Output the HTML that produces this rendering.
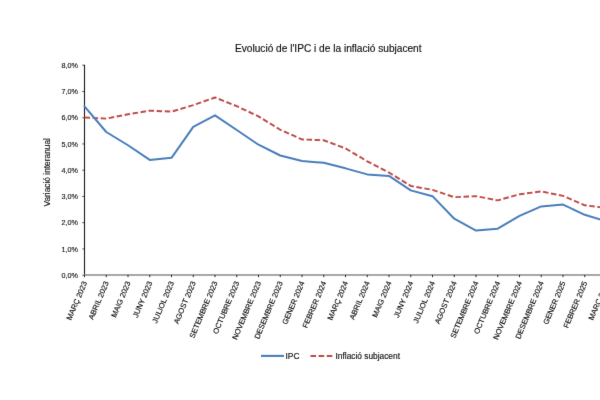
<!DOCTYPE html>
<html lang="ca"><head><meta charset="utf-8"><title>Evolució de l'IPC i de la inflació subjacent</title>
<style>
html,body{margin:0;padding:0;background:#fff;}
body{width:600px;height:400px;overflow:hidden;}
svg{display:block;will-change:transform;font-family:"Liberation Sans",Arial,sans-serif;fill:#111;}
text{stroke:#111;stroke-width:0.15px;}
</style></head><body>
<svg width="600" height="400" viewBox="0 0 600 400">
<defs><filter id="soft" x="0" y="0" width="600" height="400" filterUnits="userSpaceOnUse"><feConvolveMatrix order="3" kernelMatrix="0.0049 0.0602 0.0049 0.0602 0.7396 0.0602 0.0049 0.0602 0.0049" divisor="1" edgeMode="duplicate" preserveAlpha="false"/></filter></defs>
<rect width="600" height="400" fill="#fff"/>
<g filter="url(#soft)">
<text x="328.3" y="52" font-size="10.15" text-anchor="middle">Evolució de l'IPC i de la inflació subjacent</text>
<text transform="translate(49.5,172.3) rotate(-90)" font-size="8.35" text-anchor="middle">Variació interanual</text>
<line x1="82.4" x2="84.5" y1="275.15" y2="275.15" stroke="#333" stroke-width="0.9"/>
<text x="78" y="277.80" font-size="8" text-anchor="end" textLength="16.4" lengthAdjust="spacingAndGlyphs">0,0%</text>
<line x1="82.4" x2="84.5" y1="248.91" y2="248.91" stroke="#333" stroke-width="0.9"/>
<text x="78" y="251.56" font-size="8" text-anchor="end" textLength="16.4" lengthAdjust="spacingAndGlyphs">1,0%</text>
<line x1="82.4" x2="84.5" y1="222.67" y2="222.67" stroke="#333" stroke-width="0.9"/>
<text x="78" y="225.32" font-size="8" text-anchor="end" textLength="16.4" lengthAdjust="spacingAndGlyphs">2,0%</text>
<line x1="82.4" x2="84.5" y1="196.43" y2="196.43" stroke="#333" stroke-width="0.9"/>
<text x="78" y="199.08" font-size="8" text-anchor="end" textLength="16.4" lengthAdjust="spacingAndGlyphs">3,0%</text>
<line x1="82.4" x2="84.5" y1="170.19" y2="170.19" stroke="#333" stroke-width="0.9"/>
<text x="78" y="172.84" font-size="8" text-anchor="end" textLength="16.4" lengthAdjust="spacingAndGlyphs">4,0%</text>
<line x1="82.4" x2="84.5" y1="143.95" y2="143.95" stroke="#333" stroke-width="0.9"/>
<text x="78" y="146.60" font-size="8" text-anchor="end" textLength="16.4" lengthAdjust="spacingAndGlyphs">5,0%</text>
<line x1="82.4" x2="84.5" y1="117.71" y2="117.71" stroke="#333" stroke-width="0.9"/>
<text x="78" y="120.36" font-size="8" text-anchor="end" textLength="16.4" lengthAdjust="spacingAndGlyphs">6,0%</text>
<line x1="82.4" x2="84.5" y1="91.47" y2="91.47" stroke="#333" stroke-width="0.9"/>
<text x="78" y="94.12" font-size="8" text-anchor="end" textLength="16.4" lengthAdjust="spacingAndGlyphs">7,0%</text>
<line x1="82.4" x2="84.5" y1="65.23" y2="65.23" stroke="#333" stroke-width="0.9"/>
<text x="78" y="67.88" font-size="8" text-anchor="end" textLength="16.4" lengthAdjust="spacingAndGlyphs">8,0%</text>
<line x1="84.5" x2="84.5" y1="64.78" y2="275.50" stroke="#1a1a1a" stroke-width="1.1"/>
<line x1="84" x2="640" y1="275" y2="275" stroke="#8a8a8a" stroke-width="1.7"/>
<line x1="84.50" x2="84.50" y1="274.90" y2="277.10" stroke="#1a1a1a" stroke-width="1"/>
<line x1="106.25" x2="106.25" y1="274.90" y2="277.10" stroke="#1a1a1a" stroke-width="1"/>
<line x1="128.00" x2="128.00" y1="274.90" y2="277.10" stroke="#1a1a1a" stroke-width="1"/>
<line x1="149.75" x2="149.75" y1="274.90" y2="277.10" stroke="#1a1a1a" stroke-width="1"/>
<line x1="171.50" x2="171.50" y1="274.90" y2="277.10" stroke="#1a1a1a" stroke-width="1"/>
<line x1="193.25" x2="193.25" y1="274.90" y2="277.10" stroke="#1a1a1a" stroke-width="1"/>
<line x1="215.00" x2="215.00" y1="274.90" y2="277.10" stroke="#1a1a1a" stroke-width="1"/>
<line x1="236.75" x2="236.75" y1="274.90" y2="277.10" stroke="#1a1a1a" stroke-width="1"/>
<line x1="258.50" x2="258.50" y1="274.90" y2="277.10" stroke="#1a1a1a" stroke-width="1"/>
<line x1="280.25" x2="280.25" y1="274.90" y2="277.10" stroke="#1a1a1a" stroke-width="1"/>
<line x1="302.00" x2="302.00" y1="274.90" y2="277.10" stroke="#1a1a1a" stroke-width="1"/>
<line x1="323.75" x2="323.75" y1="274.90" y2="277.10" stroke="#1a1a1a" stroke-width="1"/>
<line x1="345.50" x2="345.50" y1="274.90" y2="277.10" stroke="#1a1a1a" stroke-width="1"/>
<line x1="367.25" x2="367.25" y1="274.90" y2="277.10" stroke="#1a1a1a" stroke-width="1"/>
<line x1="389.00" x2="389.00" y1="274.90" y2="277.10" stroke="#1a1a1a" stroke-width="1"/>
<line x1="410.75" x2="410.75" y1="274.90" y2="277.10" stroke="#1a1a1a" stroke-width="1"/>
<line x1="432.50" x2="432.50" y1="274.90" y2="277.10" stroke="#1a1a1a" stroke-width="1"/>
<line x1="454.25" x2="454.25" y1="274.90" y2="277.10" stroke="#1a1a1a" stroke-width="1"/>
<line x1="476.00" x2="476.00" y1="274.90" y2="277.10" stroke="#1a1a1a" stroke-width="1"/>
<line x1="497.75" x2="497.75" y1="274.90" y2="277.10" stroke="#1a1a1a" stroke-width="1"/>
<line x1="519.50" x2="519.50" y1="274.90" y2="277.10" stroke="#1a1a1a" stroke-width="1"/>
<line x1="541.25" x2="541.25" y1="274.90" y2="277.10" stroke="#1a1a1a" stroke-width="1"/>
<line x1="563.00" x2="563.00" y1="274.90" y2="277.10" stroke="#1a1a1a" stroke-width="1"/>
<line x1="584.75" x2="584.75" y1="274.90" y2="277.10" stroke="#1a1a1a" stroke-width="1"/>
<line x1="606.50" x2="606.50" y1="274.90" y2="277.10" stroke="#1a1a1a" stroke-width="1"/>
<line x1="628.25" x2="628.25" y1="274.90" y2="277.10" stroke="#1a1a1a" stroke-width="1"/>
<text transform="translate(87.25,282.7) rotate(-67)" font-size="7.6" text-anchor="end">MARÇ 2023</text>
<text transform="translate(109.00,282.7) rotate(-67)" font-size="7.6" text-anchor="end">ABRIL 2023</text>
<text transform="translate(130.75,282.7) rotate(-67)" font-size="7.6" text-anchor="end">MAIG 2023</text>
<text transform="translate(152.50,282.7) rotate(-67)" font-size="7.6" text-anchor="end">JUNY 2023</text>
<text transform="translate(174.25,282.7) rotate(-67)" font-size="7.6" text-anchor="end">JULIOL 2023</text>
<text transform="translate(196.00,282.7) rotate(-67)" font-size="7.6" text-anchor="end">AGOST 2023</text>
<text transform="translate(217.75,282.7) rotate(-67)" font-size="7.6" text-anchor="end">SETEMBRE 2023</text>
<text transform="translate(239.50,282.7) rotate(-67)" font-size="7.6" text-anchor="end">OCTUBRE 2023</text>
<text transform="translate(261.25,282.7) rotate(-67)" font-size="7.6" text-anchor="end">NOVEMBRE 2023</text>
<text transform="translate(283.00,282.7) rotate(-67)" font-size="7.6" text-anchor="end">DESEMBRE 2023</text>
<text transform="translate(304.75,282.7) rotate(-67)" font-size="7.6" text-anchor="end">GENER 2024</text>
<text transform="translate(326.50,282.7) rotate(-67)" font-size="7.6" text-anchor="end">FEBRER 2024</text>
<text transform="translate(348.25,282.7) rotate(-67)" font-size="7.6" text-anchor="end">MARÇ 2024</text>
<text transform="translate(370.00,282.7) rotate(-67)" font-size="7.6" text-anchor="end">ABRIL 2024</text>
<text transform="translate(391.75,282.7) rotate(-67)" font-size="7.6" text-anchor="end">MAIG 2024</text>
<text transform="translate(413.50,282.7) rotate(-67)" font-size="7.6" text-anchor="end">JUNY 2024</text>
<text transform="translate(435.25,282.7) rotate(-67)" font-size="7.6" text-anchor="end">JULIOL 2024</text>
<text transform="translate(457.00,282.7) rotate(-67)" font-size="7.6" text-anchor="end">AGOST 2024</text>
<text transform="translate(478.75,282.7) rotate(-67)" font-size="7.6" text-anchor="end">SETEMBRE 2024</text>
<text transform="translate(500.50,282.7) rotate(-67)" font-size="7.6" text-anchor="end">OCTUBRE 2024</text>
<text transform="translate(522.25,282.7) rotate(-67)" font-size="7.6" text-anchor="end">NOVEMBRE 2024</text>
<text transform="translate(544.00,282.7) rotate(-67)" font-size="7.6" text-anchor="end">DESEMBRE 2024</text>
<text transform="translate(565.75,282.7) rotate(-67)" font-size="7.6" text-anchor="end">GENER 2025</text>
<text transform="translate(587.50,282.7) rotate(-67)" font-size="7.6" text-anchor="end">FEBRER 2025</text>
<text transform="translate(609.25,282.7) rotate(-67)" font-size="7.6" text-anchor="end">MARÇ 2025</text>
<polyline points="84.50,117.44 106.25,118.62 128.00,114.29 149.75,110.61 171.50,111.66 193.25,105.10 215.00,97.49 236.75,106.15 258.50,116.39 280.25,129.77 302.00,139.48 323.75,140.26 345.50,148.40 367.25,161.26 389.00,172.54 410.75,185.92 432.50,189.86 454.25,197.20 476.00,196.16 497.75,200.35 519.50,194.32 541.25,191.43 563.00,195.89 584.75,205.34 606.50,207.96" fill="none" stroke="#be4b48" stroke-width="1.95" stroke-dasharray="5.5 2.6" stroke-linejoin="round"/>
<polyline points="84.50,106.28 106.25,132.00 128.00,145.25 149.75,159.94 171.50,157.84 193.25,126.88 215.00,115.34 236.75,130.03 258.50,144.72 280.25,155.48 302.00,160.99 323.75,162.83 345.50,168.34 367.25,174.38 389.00,175.95 410.75,190.38 432.50,196.16 454.25,218.72 476.00,230.53 497.75,228.69 519.50,215.84 541.25,206.39 563.00,204.55 584.75,214.79 606.50,221.35" fill="none" stroke="#4a7ebb" stroke-width="2.0" stroke-linejoin="round" stroke-linecap="round"/>
<line x1="261" x2="284" y1="355.9" y2="355.9" stroke="#4a7ebb" stroke-width="2.1"/>
<text x="285.5" y="358.7" font-size="8.35">IPC</text>
<line x1="310.5" x2="332.5" y1="355.9" y2="355.9" stroke="#be4b48" stroke-width="2.0" stroke-dasharray="5.6 2.5"/>
<text x="335.5" y="358.7" font-size="8.35">Inflació subjacent</text>
</g>
</svg></body></html>
